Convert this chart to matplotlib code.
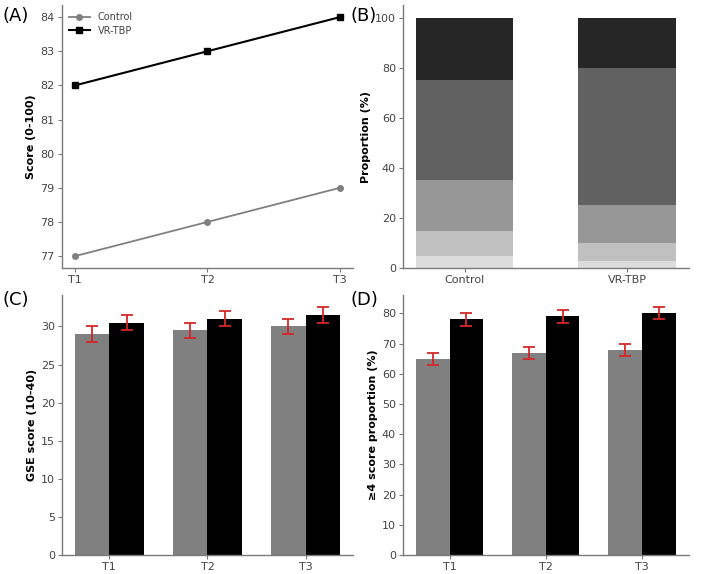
import matplotlib
matplotlib.use("Agg")
import matplotlib.pyplot as plt
import numpy as np

# ---- data ----
timepoints = ["T1", "T2", "T3"]
groups = ["Control", "VR-TBP"]

score_control = [77, 78, 79]
score_vr = [82, 83, 84]

# stacked proportions (bottom -> top)
prop_control = [5, 10, 20, 40, 25]
prop_vr = [3, 7, 15, 55, 20]

gse_control = [29.0, 29.5, 30.0]
gse_vr = [30.5, 31.0, 31.5]
gse_err = [1.0, 1.0, 1.0]

p4_control = [65, 67, 68]
p4_vr = [78, 79, 80]
p4_err = [2.0, 2.0, 2.0]

stack_colors = ["#dcdcdc", "#c0c0c0", "#979797", "#616161", "#262626"]

plt.rcParams["font.family"] = "DejaVu Sans"
fig = plt.figure(figsize=(7.02, 5.74), dpi=100)

axA = fig.add_axes([0.088, 0.533, 0.415, 0.458])
axB = fig.add_axes([0.574, 0.533, 0.407, 0.458])
axC = fig.add_axes([0.088, 0.033, 0.415, 0.453])
axD = fig.add_axes([0.574, 0.033, 0.407, 0.453])

spine_col = "#7a7a7a"
tick_col = "#444444"
fs = 8

def style(ax):
    for s in ["top", "right"]:
        ax.spines[s].set_visible(False)
    for s in ["left", "bottom"]:
        ax.spines[s].set_color(spine_col)
        ax.spines[s].set_linewidth(1.0)
    ax.tick_params(axis="both", labelsize=fs, colors=spine_col, labelcolor=tick_col,
                   length=3, width=0.8, pad=2)

# (A)
x = np.arange(len(timepoints))
axA.plot(x, score_control, color="#808080", marker="o", markersize=4, linewidth=1.3, label="Control")
axA.plot(x, score_vr, color="black", marker="s", markersize=4, linewidth=1.5, label="VR-TBP")
axA.set_xticks(x)
axA.set_xticklabels(timepoints)
axA.set_ylabel("Score (0-100)", fontsize=fs, fontweight="bold", labelpad=3)
leg = axA.legend(loc="upper left", fontsize=7, frameon=False, handlelength=2.2,
                 borderaxespad=0.3, labelspacing=0.4)
for t in leg.get_texts():
    t.set_color(tick_col)
style(axA)

# (B)
xb = np.arange(len(groups))
bottoms = np.zeros(len(groups))
for i in range(len(prop_control)):
    vals = np.array([prop_control[i], prop_vr[i]])
    axB.bar(xb, vals, width=0.6, bottom=bottoms, color=stack_colors[i], edgecolor="none")
    bottoms += vals
axB.set_xticks(xb)
axB.set_xticklabels(groups)
axB.set_ylabel("Proportion (%)", fontsize=fs, fontweight="bold", labelpad=3)
axB.set_yticks([0, 20, 40, 60, 80, 100])
style(axB)

# (C)
w = 0.35
ekw = dict(ecolor="#d62728", elinewidth=1.3, capsize=4, capthick=1.3)
axC.bar(x - w / 2, gse_control, width=w, color="#808080", yerr=gse_err, error_kw=ekw)
axC.bar(x + w / 2, gse_vr, width=w, color="black", yerr=gse_err, error_kw=ekw)
axC.set_xticks(x)
axC.set_xticklabels(timepoints)
axC.set_yticks([0, 5, 10, 15, 20, 25, 30])
axC.set_ylabel("GSE score (10-40)", fontsize=fs, fontweight="bold", labelpad=3)
style(axC)

# (D)
axD.bar(x - w / 2, p4_control, width=w, color="#808080", yerr=p4_err, error_kw=ekw)
axD.bar(x + w / 2, p4_vr, width=w, color="black", yerr=p4_err, error_kw=ekw)
axD.set_xticks(x)
axD.set_xticklabels(timepoints)
axD.set_yticks(np.arange(0, 81, 10))
axD.set_ylabel("\u22654 score proportion (%)", fontsize=fs, fontweight="bold", labelpad=3)
style(axD)

# panel labels
fig.text(0.004, 0.988, "(A)", fontsize=13, va="top", ha="left")
fig.text(0.499, 0.988, "(B)", fontsize=13, va="top", ha="left")
fig.text(0.004, 0.493, "(C)", fontsize=13, va="top", ha="left")
fig.text(0.499, 0.493, "(D)", fontsize=13, va="top", ha="left")

fig.savefig("out.png", dpi=100)
